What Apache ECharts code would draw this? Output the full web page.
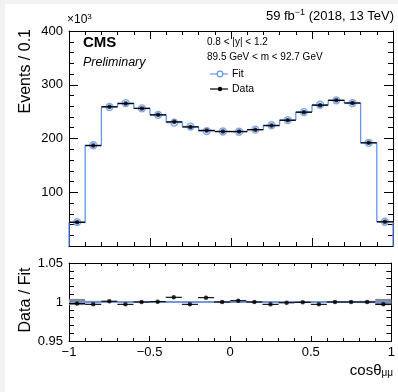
<!DOCTYPE html>
<html>
<head>
<meta charset="utf-8">
<script src="https://cdn.jsdelivr.net/npm/echarts@6/dist/echarts.min.js"></script>
<style>
html,body{margin:0;padding:0;background:#fff;}
#c{width:398px;height:392px;}
</style>
</head>
<body>
<div id="c"></div>
<script>
// ---- data (counts in units of 10^3) ----
var binEdges = [-1,-0.9,-0.8,-0.7,-0.6,-0.5,-0.4,-0.3,-0.2,-0.1,0,0.1,0.2,0.3,0.4,0.5,0.6,0.7,0.8,0.9,1];
var dataCounts = [44.2,186.8,259,265,256,244,231,221.5,215,213,213,216.5,224,234,249,262,271,266,192,45];
var fitCounts  = [44.3,187.4,258.7,265.8,256,243.9,229.6,222.2,213.8,213,212.6,216.5,224.7,234.2,249.1,262.8,271,266,192,45.1];
var ratioValues = [0.998,0.997,1.001,0.997,1.000,1.0004,1.006,0.997,1.0056,1.000,1.0017,1.000,0.997,0.999,0.9996,0.997,1.000,1.000,1.000,0.997];
var fitBand = [0.004,0.0015,0.001,0.001,0.001,0.001,0.001,0.001,0.001,0.001,0.001,0.001,0.001,0.001,0.001,0.001,0.001,0.001,0.0015,0.004];
var topTicks = [0,100,200,300,400];
var ratioTicks = [0.95,1,1.05];
var xTicks = [-1,-0.5,0,0.5,1];

var FONT = '"Liberation Sans", Arial, Helvetica, sans-serif';
var BLUE = '#6495ed';

function centers(){ var c=[]; for(var i=0;i<binEdges.length-1;i++) c.push((binEdges[i]+binEdges[i+1])/2); return c; }
var ctr = centers();

var fitHist = [], dataBars = [], dataPts = [], fitPts = [], ratioBars = [], ratioPts = [], bandItems = [];
for (var i=0;i<dataCounts.length;i++){
  var prev = i===0 ? topTicks[0] : fitCounts[i-1];
  var next = i===dataCounts.length-1 ? topTicks[0] : null;
  fitHist.push([binEdges[i], binEdges[i+1], fitCounts[i], prev, next===null?-1:next]);
  dataBars.push([binEdges[i], binEdges[i+1], dataCounts[i]]);
  dataPts.push([ctr[i], dataCounts[i]]);
  fitPts.push([ctr[i], fitCounts[i]]);
  ratioBars.push([binEdges[i], binEdges[i+1], ratioValues[i]]);
  ratioPts.push([ctr[i], ratioValues[i]]);
  bandItems.push([binEdges[i], binEdges[i+1], 1-fitBand[i], 1+fitBand[i]]);
}

var chart = echarts.init(document.getElementById('c'), null, {renderer:'canvas'});

function xAx(grid, pos, labels){
  return {
    gridIndex:grid, type:'value', min:xTicks[0], max:xTicks[xTicks.length-1], interval:0.5,
    position:pos,
    axisLine:{show:true, onZero:false, lineStyle:{color:'#000', width:1}},
    axisTick:{show:true, inside:true, length: grid===0?8:5, lineStyle:{color:'#000'}},
    minorTick:{show:true, splitNumber:5, length: grid===0?4:3, lineStyle:{color:'#000'}},
    splitLine:{show:false},
    axisLabel:{show:labels, color:'#000', fontFamily:FONT, fontSize:13, margin:5,
      formatter:function(v){ return String(v).replace('-', '\u2212'); }}
  };
}
function yAx(grid, pos, labels, mn, mx, iv, fmt){
  return {
    gridIndex:grid, type:'value', min:mn, max:mx, interval:iv, position:pos,
    axisLine:{show:true, onZero:false, lineStyle:{color:'#000', width:1}},
    axisTick:{show:true, inside:true, length:9, lineStyle:{color:'#000'}},
    minorTick:{show:true, splitNumber:5, length:5, lineStyle:{color:'#000'}},
    splitLine:{show:false},
    axisLabel:{show:labels, color:'#000', fontFamily:FONT, fontSize:13, margin:6, formatter:fmt}
  };
}

var option = {
  animation:false,
  backgroundColor:'#fff',
  grid:[
    {left:69, width:324, top:31, height:215},
    {left:69, width:324, top:263, height:78}
  ],
  xAxis:[ xAx(0,'bottom',false), xAx(0,'top',false), xAx(1,'bottom',true), xAx(1,'top',false) ],
  yAxis:[
    yAx(0,'left',true,topTicks[0],topTicks[topTicks.length-1],100,function(v){ return v===0?'':String(v); }),
    yAx(0,'right',false,topTicks[0],topTicks[topTicks.length-1],100),
    yAx(1,'left',true,ratioTicks[0],ratioTicks[2],0.05,function(v){ return String(+(+v).toFixed(2)); }),
    yAx(1,'right',false,ratioTicks[0],ratioTicks[2],0.05)
  ],
  series:[
    { // fit histogram
      type:'custom', xAxisIndex:0, yAxisIndex:0, data:fitHist, z:2,
      renderItem:function(params, api){
        var lo=api.value(0), hi=api.value(1), v=api.value(2), pv=api.value(3), nx=api.value(4);
        var a=api.coord([lo,pv]), b=api.coord([lo,v]), c=api.coord([hi,v]);
        var st={stroke:BLUE, lineWidth:1.3, fill:null};
        var ch=[
          {type:'line', shape:{x1:a[0],y1:a[1],x2:b[0],y2:b[1]}, style:st},
          {type:'line', shape:{x1:b[0],y1:b[1],x2:c[0],y2:c[1]}, style:st}
        ];
        if (nx>=0){ var d=api.coord([hi,nx]); ch.push({type:'line', shape:{x1:c[0],y1:c[1],x2:d[0],y2:d[1]}, style:st}); }
        return {type:'group', children:ch};
      }
    },
    { // fit markers
      type:'scatter', xAxisIndex:0, yAxisIndex:0, data:fitPts, symbol:'circle', symbolSize:7, z:3,
      itemStyle:{color:'rgba(180,205,250,0.6)', borderColor:BLUE, borderWidth:1.3}
    },
    { // data x-error bars
      type:'custom', xAxisIndex:0, yAxisIndex:0, data:dataBars, z:4,
      renderItem:function(params, api){
        var a=api.coord([api.value(0),api.value(2)]), b=api.coord([api.value(1),api.value(2)]);
        return {type:'line', shape:{x1:a[0],y1:a[1],x2:b[0],y2:b[1]}, style:{stroke:'#000', lineWidth:1.3}};
      }
    },
    { // data points
      type:'scatter', xAxisIndex:0, yAxisIndex:0, data:dataPts, symbol:'circle', symbolSize:4.5, z:5,
      itemStyle:{color:'#000'}
    },
    { // ratio fit band
      type:'custom', xAxisIndex:2, yAxisIndex:2, data:bandItems, z:1,
      renderItem:function(params, api){
        var a=api.coord([api.value(0),api.value(3)]), b=api.coord([api.value(1),api.value(2)]);
        return {type:'rect', shape:{x:a[0], y:a[1], width:b[0]-a[0], height:Math.max(1,b[1]-a[1])}, style:{fill:'#8a8a8a'}};
      }
    },
    { // fit ratio line at 1
      type:'line', xAxisIndex:2, yAxisIndex:2, data:[[xTicks[0],1],[xTicks[4],1]], symbol:'none', z:2,
      lineStyle:{color:BLUE, width:1.3}
    },
    { // ratio x-error bars
      type:'custom', xAxisIndex:2, yAxisIndex:2, data:ratioBars, z:4,
      renderItem:function(params, api){
        var a=api.coord([api.value(0),api.value(2)]), b=api.coord([api.value(1),api.value(2)]);
        return {type:'line', shape:{x1:a[0],y1:a[1],x2:b[0],y2:b[1]}, style:{stroke:'#000', lineWidth:1.1}};
      }
    },
    { // ratio points
      type:'scatter', xAxisIndex:2, yAxisIndex:2, data:ratioPts, symbol:'circle', symbolSize:4.5, z:5,
      itemStyle:{color:'#000'}
    }
  ],
  graphic:[
    {type:'rect', left:0, top:0, shape:{width:5, height:392}, style:{fill:'#f2f2f2'}, silent:true},
    {type:'rect', left:0, top:0, shape:{width:398, height:4}, style:{fill:'#f2f2f2'}, silent:true},
    {type:'text', x:67, y:27, style:{text:'\u00d710{s|3}', font:'12px '+FONT, fill:'#000', textVerticalAlign:'bottom',
       rich:{s:{fontSize:8, fontFamily:FONT, verticalAlign:'top', padding:[0,0,6,0]}}}},
    {type:'text', x:394, y:24, style:{text:'59 fb{s|\u22121} (2018, 13 TeV)', font:'13px '+FONT, fill:'#000', textAlign:'right', textVerticalAlign:'bottom',
       rich:{s:{fontSize:9, fontFamily:FONT, verticalAlign:'top', padding:[0,0,7,0]}}}},
    {type:'text', x:83, y:43, style:{text:'CMS', font:'bold 15px '+FONT, fill:'#000', textVerticalAlign:'middle'}},
    {type:'text', x:83, y:63, style:{text:'Preliminary', font:'italic 12.5px '+FONT, fill:'#000', textVerticalAlign:'middle'}},
    {type:'text', x:207, y:42, style:{text:'0.8 < |y| < 1.2', font:'10px '+FONT, fill:'#000', textVerticalAlign:'middle'}},
    {type:'text', x:207, y:57, style:{text:'89.5 GeV < m < 92.7 GeV', font:'10px '+FONT, fill:'#000', textVerticalAlign:'middle'}},
    {type:'line', shape:{x1:210, y1:74, x2:228, y2:74}, style:{stroke:BLUE, lineWidth:1.2}},
    {type:'circle', shape:{cx:220, cy:74, r:2.8}, style:{stroke:BLUE, fill:'#fff', lineWidth:1.2}},
    {type:'text', x:232, y:74, style:{text:'Fit', font:'10.5px '+FONT, fill:'#000', textVerticalAlign:'middle'}},
    {type:'line', shape:{x1:210, y1:89, x2:228, y2:89}, style:{stroke:'#000', lineWidth:1.2}},
    {type:'circle', shape:{cx:220, cy:89, r:2.2}, style:{fill:'#000'}},
    {type:'text', x:232, y:89, style:{text:'Data', font:'10.5px '+FONT, fill:'#000', textVerticalAlign:'middle'}},
    {type:'text', x:26, y:29, rotation:Math.PI/2, style:{text:'Events / 0.1', font:'16px '+FONT, fill:'#000', textAlign:'right', textVerticalAlign:'middle'}},
    {type:'text', x:26, y:300, rotation:Math.PI/2, style:{text:'Data / Fit', font:'16px '+FONT, fill:'#000', textAlign:'center', textVerticalAlign:'middle'}},
    {type:'text', x:393, y:378, style:{text:'cos\u03b8{s|\u03bc\u03bc}', font:'15px '+FONT, fill:'#000', textAlign:'right', textVerticalAlign:'bottom',
       rich:{s:{fontSize:10, fontFamily:FONT, verticalAlign:'bottom', padding:[5,0,0,0]}}}}
  ]
};
chart.setOption(option);
</script>
</body>
</html>
